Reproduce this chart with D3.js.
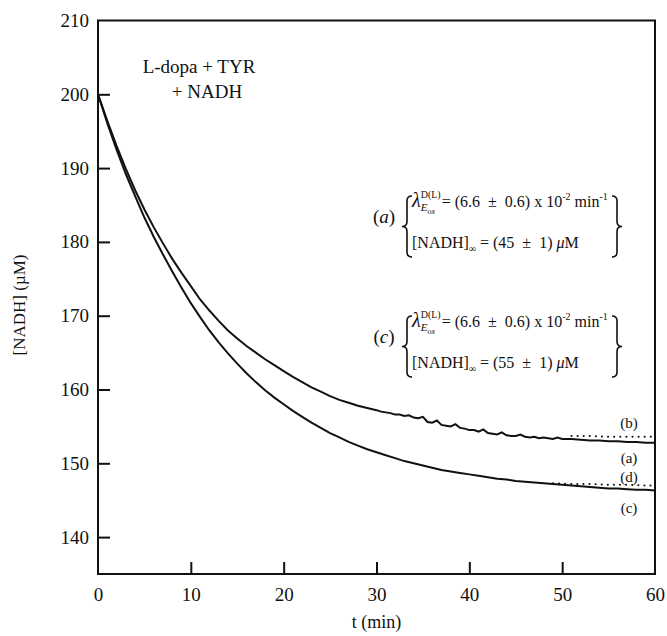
<!DOCTYPE html>
<html>
<head>
<meta charset="utf-8">
<script src="https://cdn.jsdelivr.net/npm/d3@7"></script>
<style>
  html, body { margin: 0; padding: 0; background: #fff; }
  svg text { font-family: "Liberation Serif", "Times New Roman", Times, serif; fill: #111; white-space: pre; }
</style>
</head>
<body>
<svg id="chart" width="667" height="636" font-family="Liberation Serif, Times New Roman, serif"></svg>
<script>
// Time axis (min) for the two measured NADH traces
const timeA = [0,1,2,3,4,5,6,7,8,9,10,11,12,13,14,15,16,17,18,19,20,21,22,23,24,25,26,27,28,29,30,
  30.5,31,31.5,32,32.5,33,33.5,34,34.5,35,35.5,36,36.5,37,37.5,38,38.5,39,39.5,40,40.5,41,41.5,42,42.5,43,43.5,44,44.5,45,45.5,46,46.5,47,47.5,48,48.5,49,49.5,50,
  51,52,53,54,55,56,57,58,59,60];
// Trace (a): NADH (µM)
const nadhA = [200.0,196.4,193.0,189.9,187.0,184.4,182.0,179.8,177.7,175.8,174.0,172.2,170.7,169.3,168.0,166.9,165.9,165.0,164.1,163.3,162.5,161.7,161.0,160.3,159.7,159.1,158.6,158.2,157.8,157.5,157.2,
  157.0,156.9,156.8,156.6,156.6,156.4,156.5,156.2,156.1,156.3,155.6,155.5,155.8,155.2,155.1,155.0,155.3,154.8,154.7,154.5,154.5,154.3,154.6,154.1,154.0,153.9,154.2,153.8,153.7,153.7,153.9,153.6,153.5,153.6,153.4,153.5,153.4,153.3,153.5,153.3,
  153.3,153.2,153.1,153.1,153.0,153.0,152.9,152.9,152.8,152.8];

const timeC = [0,1,2,3,4,5,6,7,8,9,10,11,12,13,14,15,16,17,18,19,20,21,22,23,24,25,26,27,28,29,30,31,32,33,34,35,36,37,38,39,40,
  41,42,43,44,45,46,47,48,49,50,51,52,53,54,55,56,57,58,59,60];
// Trace (c): NADH (µM)
const nadhC = [200.0,196.1,192.5,189.2,186.2,183.3,180.7,178.3,176.0,173.8,171.7,169.8,168.0,166.4,164.9,163.5,162.2,161.0,159.9,158.9,158.0,157.1,156.3,155.5,154.8,154.1,153.5,152.9,152.4,151.9,151.5,151.1,150.7,150.3,150.0,149.7,149.4,149.1,148.9,148.7,148.5,
  148.3,148.1,147.9,147.8,147.6,147.5,147.4,147.3,147.2,147.1,147.0,146.9,146.8,146.7,146.6,146.6,146.5,146.4,146.4,146.3];

// Fitted curves (b) and (d), shown dotted where they part from the traces
const timeFitB = [51,53,55,57,59,60];
const fitB = [153.7,153.7,153.6,153.6,153.6,153.6];
const timeFitD = [49,51,53,55,57,59,60];
const fitD = [147.3,147.2,147.2,147.1,147.1,147.0,147.0];

const xTicks = [0,10,20,30,40,50,60];
const yTicks = [140,150,160,170,180,190,200,210];

const SERIF = "Liberation Serif, Times New Roman, serif";
const svg = d3.select("#chart");
const x = d3.scaleLinear().domain([0, 60]).range([98, 655]);
const y = d3.scaleLinear().domain([135, 210]).range([574, 20.5]);

// Axes with inward ticks
const yAxis = d3.axisLeft(y).tickValues(yTicks.filter(v => v < 210)).tickSizeInner(-12).tickSizeOuter(0).tickPadding(9);
const gy = svg.append("g").attr("transform", `translate(${x(0)},0)`).call(yAxis)
  .attr("font-family", SERIF).attr("font-size", 19);
gy.select(".domain").remove();
gy.selectAll(".tick line").attr("stroke", "#111").attr("stroke-width", 2);

// 210 label sits at the frame corner
svg.append("text").attr("x", x(0) - 9).attr("y", y(210)).attr("dy", "0.32em")
  .attr("text-anchor", "end").attr("font-size", 19).text("210");

const xAxis = d3.axisBottom(x).tickValues(xTicks).tickSizeInner(-12).tickSizeOuter(0).tickPadding(14);
const gx = svg.append("g").attr("transform", `translate(0,${y(135)})`).call(xAxis)
  .attr("font-family", SERIF).attr("font-size", 19);
gx.select(".domain").remove();
gx.selectAll(".tick line").attr("stroke", "#111").attr("stroke-width", 2)
  .filter(d => d === 0 || d === 60).remove();

// Frame
svg.append("rect")
  .attr("x", x(0)).attr("y", y(210))
  .attr("width", x(60) - x(0)).attr("height", y(135) - y(210))
  .attr("fill", "none").attr("stroke", "#111").attr("stroke-width", 2);

// Axis titles
svg.append("text").attr("x", (x(0) + x(60)) / 2).attr("y", 628)
  .attr("text-anchor", "middle").attr("font-size", 18).text("t (min)");
svg.append("text").attr("transform", "translate(25,305) rotate(-90)")
  .attr("text-anchor", "middle").attr("font-size", 17).text("[NADH] (µM)");

// Traces
const line = d3.line().x(d => x(d[0])).y(d => y(d[1]));
svg.append("path").datum(timeA.map((t, i) => [t, nadhA[i]]))
  .attr("d", line).attr("fill", "none").attr("stroke", "#111").attr("stroke-width", 2);
svg.append("path").datum(timeC.map((t, i) => [t, nadhC[i]]))
  .attr("d", line).attr("fill", "none").attr("stroke", "#111").attr("stroke-width", 2);

// Fits, dotted
[[timeFitB, fitB], [timeFitD, fitD]].forEach(([ts, vs]) => {
  svg.append("path").datum(ts.map((t, i) => [t, vs[i]]))
    .attr("d", line).attr("fill", "none").attr("stroke", "#111")
    .attr("stroke-width", 2).attr("stroke-linecap", "round")
    .attr("stroke-dasharray", "0.1,6");
});

// Curve labels at the right edge
const curveLabels = [["(b)", 428], ["(a)", 463], ["(d)", 482], ["(c)", 513]];
curveLabels.forEach(([t, yy]) => {
  svg.append("text").attr("x", 629).attr("y", yy).attr("text-anchor", "middle")
    .attr("font-size", 15).text(t);
});

// Condition label
svg.append("text").attr("x", 199).attr("y", 73).attr("text-anchor", "middle").attr("font-size", 19).text("L-dopa + TYR");
svg.append("text").attr("x", 207).attr("y", 98).attr("text-anchor", "middle").attr("font-size", 19).text("+ NADH");

// Rich text helper: lays pieces left to right, measuring each
function put(g, t, px, py, size, italic) {
  const n = g.append("text").attr("x", px).attr("y", py).attr("font-size", size)
    .attr("font-style", italic ? "italic" : null).text(t);
  return n.node().getComputedTextLength();
}
function rich(g, x0, y0, parts) {
  let cx = x0;
  parts.forEach(p => {
    if (p.stack) {
      let w1 = put(g, p.sup, cx, y0 - 9, 10, false);
      let w2 = put(g, "E", cx, y0 + 4, 11, true);
      w2 += put(g, "ox", cx + w2, y0 + 7, 8, true);
      cx += Math.max(w1, w2) + 1;
    } else {
      cx += put(g, p.t, cx, y0 + (p.off || 0), p.size || 16, p.italic);
    }
  });
}
function braces(g, xl, xr, y0, y1) {
  const w = 5, ym = (y0 + y1) / 2;
  const left = `M${xl + w},${y0} Q${xl},${y0} ${xl},${y0 + w} L${xl},${ym - w} Q${xl},${ym} ${xl - w},${ym}` +
    ` Q${xl},${ym} ${xl},${ym + w} L${xl},${y1 - w} Q${xl},${y1} ${xl + w},${y1}`;
  const right = `M${xr - w},${y0} Q${xr},${y0} ${xr},${y0 + w} L${xr},${ym - w} Q${xr},${ym} ${xr + w},${ym}` +
    ` Q${xr},${ym} ${xr},${ym + w} L${xr},${y1 - w} Q${xr},${y1} ${xr - w},${y1}`;
  g.append("path").attr("d", left).attr("fill", "none").attr("stroke", "#111").attr("stroke-width", 1.6);
  g.append("path").attr("d", right).attr("fill", "none").attr("stroke", "#111").attr("stroke-width", 1.6);
}

// Rate constant and end-point annotations
const annotations = [
  { tag: "a", base: 207, inf: "45" },
  { tag: "c", base: 327, inf: "55" }
];
annotations.forEach(a => {
  const g = svg.append("g");
  const lt = g.append("text").attr("x", 384).attr("y", a.base + 16).attr("text-anchor", "middle").attr("font-size", 19);
  lt.append("tspan").text("(");
  lt.append("tspan").attr("font-style", "italic").text(a.tag);
  lt.append("tspan").text(")");
  braces(g, 407, 617, a.base - 11, a.base + 50);
  rich(g, 412, a.base, [
    { t: "λ", size: 20, italic: true },
    { stack: true, sup: "D(L)" },
    { t: "= (6.6  ±  0.6) x 10" },
    { t: "-2", size: 10, off: -7 },
    { t: " min" },
    { t: "-1", size: 10, off: -7 }
  ]);
  rich(g, 412, a.base + 41, [
    { t: "[NADH]" },
    { t: "∞", size: 10, off: 4 },
    { t: " = (" + a.inf + "  ±  1) " },
    { t: "μ", italic: true },
    { t: "M" }
  ]);
});
</script>
</body>
</html>
